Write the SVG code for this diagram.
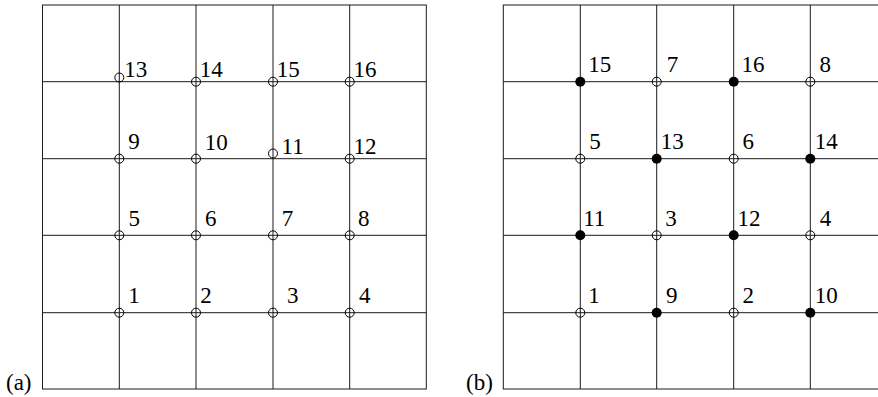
<svg xmlns="http://www.w3.org/2000/svg" width="878" height="397" viewBox="0 0 878 397">
<style>
.g{stroke:#1a1a1a;stroke-width:1;fill:none}
.o{stroke:#000;stroke-width:1;fill:none}
.f{fill:#000;stroke:none}
</style>
<rect width="878" height="397" fill="#fff"/>
<g id="grid-a" class="g">
<rect x="42.5" y="5" width="383.8" height="384"/>
<line x1="119.3" y1="5" x2="119.3" y2="389"/>
<line x1="196" y1="5" x2="196" y2="389"/>
<line x1="273" y1="5" x2="273" y2="389"/>
<line x1="349.7" y1="5" x2="349.7" y2="389"/>
<line x1="42.5" y1="81.7" x2="426.3" y2="81.7"/>
<line x1="42.5" y1="158.7" x2="426.3" y2="158.7"/>
<line x1="42.5" y1="235.3" x2="426.3" y2="235.3"/>
<line x1="42.5" y1="312.7" x2="426.3" y2="312.7"/>
</g>
<g id="grid-b" class="g">
<rect x="503.3" y="5" width="383.5" height="384"/>
<line x1="580.3" y1="5" x2="580.3" y2="389"/>
<line x1="656.7" y1="5" x2="656.7" y2="389"/>
<line x1="733.7" y1="5" x2="733.7" y2="389"/>
<line x1="810.3" y1="5" x2="810.3" y2="389"/>
<line x1="503.3" y1="81.7" x2="878" y2="81.7"/>
<line x1="503.3" y1="158.7" x2="878" y2="158.7"/>
<line x1="503.3" y1="235.3" x2="878" y2="235.3"/>
<line x1="503.3" y1="312.7" x2="878" y2="312.7"/>
</g>
<g font-family="Liberation Serif" font-size="23" fill="#000">
<text x="6" y="390">(a)</text>
<text x="466" y="390">(b)</text>
<g id="a13"><circle class="o" cx="119.3" cy="77.5" r="4.5"/><text x="124.2" y="77.3">13</text></g>
<g id="a14"><circle class="o" cx="196" cy="81.7" r="4.5"/><text x="199.8" y="77.3">14</text></g>
<g id="a15"><circle class="o" cx="273" cy="81.7" r="4.5"/><text x="276.8" y="77.3">15</text></g>
<g id="a16"><circle class="o" cx="349.7" cy="81.7" r="4.5"/><text x="353.5" y="77.3">16</text></g>
<g id="a9"><circle class="o" cx="119.3" cy="158.7" r="4.5"/><text x="128.3" y="149.3">9</text></g>
<g id="a10"><circle class="o" cx="196" cy="158.7" r="4.5"/><text x="204.8" y="149.5">10</text></g>
<g id="a11"><circle class="o" cx="273" cy="153.5" r="4.5"/><text x="281.5" y="154">11</text></g>
<g id="a12"><circle class="o" cx="349.7" cy="158.7" r="4.5"/><text x="353.5" y="154">12</text></g>
<g id="a5"><circle class="o" cx="119.3" cy="235.3" r="4.5"/><text x="128.5" y="226">5</text></g>
<g id="a6"><circle class="o" cx="196" cy="235.3" r="4.5"/><text x="204.9" y="226">6</text></g>
<g id="a7"><circle class="o" cx="273" cy="235.3" r="4.5"/><text x="281.8" y="226">7</text></g>
<g id="a8"><circle class="o" cx="349.7" cy="235.3" r="4.5"/><text x="358" y="226">8</text></g>
<g id="a1"><circle class="o" cx="119.3" cy="312.7" r="4.5"/><text x="128.2" y="303.3">1</text></g>
<g id="a2"><circle class="o" cx="196" cy="312.7" r="4.5"/><text x="200.3" y="303.3">2</text></g>
<g id="a3"><circle class="o" cx="273" cy="312.7" r="4.5"/><text x="286.9" y="303.3">3</text></g>
<g id="a4"><circle class="o" cx="349.7" cy="312.7" r="4.5"/><text x="359" y="303.3">4</text></g>
<g id="b15"><circle class="f" cx="580.3" cy="81.7" r="5"/><text x="588.2" y="72">15</text></g>
<g id="b7"><circle class="o" cx="656.7" cy="81.7" r="4.5"/><text x="666.8" y="72">7</text></g>
<g id="b16"><circle class="f" cx="733.7" cy="81.7" r="5"/><text x="741.5" y="72">16</text></g>
<g id="b8"><circle class="o" cx="810.3" cy="81.7" r="4.5"/><text x="819.4" y="72">8</text></g>
<g id="b5"><circle class="o" cx="580.3" cy="158.7" r="4.5"/><text x="589.2" y="148.7">5</text></g>
<g id="b13"><circle class="f" cx="656.7" cy="158.7" r="5"/><text x="660.8" y="148.7">13</text></g>
<g id="b6"><circle class="o" cx="733.7" cy="158.7" r="4.5"/><text x="742.5" y="148.7">6</text></g>
<g id="b14"><circle class="f" cx="810.3" cy="158.7" r="5"/><text x="814.8" y="148.7">14</text></g>
<g id="b11"><circle class="f" cx="580.3" cy="235.3" r="5"/><text x="583.2" y="226">11</text></g>
<g id="b3"><circle class="o" cx="656.7" cy="235.3" r="4.5"/><text x="665.3" y="226">3</text></g>
<g id="b12"><circle class="f" cx="733.7" cy="235.3" r="5"/><text x="737.5" y="226">12</text></g>
<g id="b4"><circle class="o" cx="810.3" cy="235.3" r="4.5"/><text x="819.7" y="226">4</text></g>
<g id="b1"><circle class="o" cx="580.3" cy="312.7" r="4.5"/><text x="588.2" y="302.7">1</text></g>
<g id="b9"><circle class="f" cx="656.7" cy="312.7" r="5"/><text x="666" y="302.7">9</text></g>
<g id="b2"><circle class="o" cx="733.7" cy="312.7" r="4.5"/><text x="742.6" y="302.7">2</text></g>
<g id="b10"><circle class="f" cx="810.3" cy="312.7" r="5"/><text x="814.8" y="302.7">10</text></g>
</g>
</svg>
